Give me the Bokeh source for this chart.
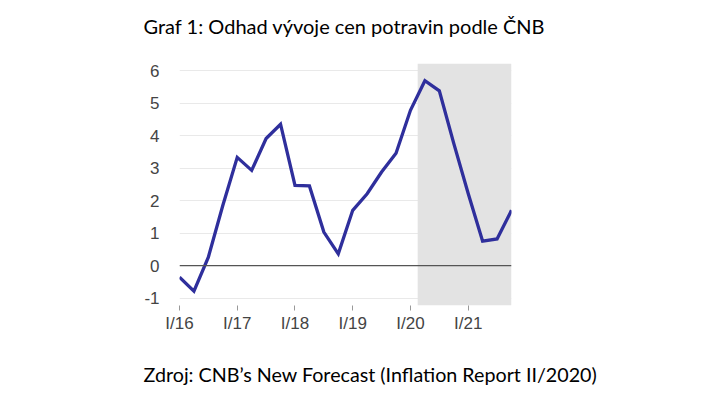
from bokeh.plotting import figure
from bokeh.models import Range1d, FixedTicker, Label, BoxAnnotation, Span
from bokeh.layouts import column
from bokeh.embed import file_html
from bokeh.resources import INLINE

quarters = list(range(24))
values = [-0.36, -0.79, 0.26, 1.85, 3.33, 2.93, 3.91, 4.35,
          2.47, 2.45, 1.03, 0.36, 1.70, 2.21, 2.88, 3.46,
          4.78, 5.69, 5.38, 3.76, 2.22, 0.75, 0.82, 1.70]
tick_pos = [0, 4, 8, 12, 16, 20]
tick_labels = ["I/16", "I/17", "I/18", "I/19", "I/20", "I/21"]
y_ticks = [-1, 0, 1, 2, 3, 4, 5, 6]
forecast_start = 16.5
title_text = "Graf 1: Odhad vývoje cen potravin podle ČNB"
source_text = "Zdroj: CNB’s New Forecast (Inflation Report II/2020)"

W = 700
TOP_H, SRC_H = 50, 43
FL, FR = 179, 511
FT, FB = 63 - TOP_H, 305 - TOP_H
MAIN_H = 298


def text_fig(height, text, size, y_frac):
    f = figure(width=W, height=height, output_backend="svg", toolbar_location=None,
               x_range=Range1d(0, W), y_range=Range1d(0, height),
               x_axis_type=None, y_axis_type=None, frame_align=False,
               min_border_left=0, min_border_right=0, min_border_top=0, min_border_bottom=0)
    f.outline_line_color = None
    f.grid.visible = False
    f.add_layout(Label(x=143, y=height * y_frac, text=text, text_font="Lato",
                       text_font_size=size, text_color="#000000",
                       text_baseline="middle", text_align="left"))
    return f


top = text_fig(TOP_H, title_text, "20px", 1 - 25 / TOP_H)
src = text_fig(SRC_H, source_text, "19.7px", 1 - (374 - TOP_H - MAIN_H) / SRC_H)

p = figure(width=W, height=MAIN_H, output_backend="svg", toolbar_location=None,
           x_range=Range1d(0, 23), y_range=Range1d(-1.23, 6.22), frame_align=False,
           min_border_left=FL, min_border_right=W - FR,
           min_border_top=FT, min_border_bottom=MAIN_H - FB)
p.outline_line_color = None
p.background_fill_color = "white"
p.border_fill_color = "white"

p.add_layout(BoxAnnotation(left=forecast_start, fill_color="#e3e3e3", fill_alpha=1.0,
                           line_color=None, level="underlay"))

p.xgrid.grid_line_color = None
p.ygrid.grid_line_color = "#e9e9e9"
p.ygrid.grid_line_width = 1
p.ygrid.ticker = FixedTicker(ticks=y_ticks)

p.add_layout(Span(location=0, dimension="width", line_color="#555555", line_width=1.2))

p.line(quarters, values, line_color="#2f2f9c", line_width=3.3, line_join="miter")

p.yaxis.ticker = FixedTicker(ticks=y_ticks)
p.yaxis.axis_line_color = None
p.yaxis.major_tick_line_color = None
p.yaxis.minor_tick_line_color = None
p.yaxis.major_label_standoff = 14
p.yaxis.major_label_text_font = "Liberation Sans"
p.yaxis.major_label_text_font_size = "17px"
p.yaxis.major_label_text_color = "#444444"
p.yaxis.major_label_overrides = {t: str(t) for t in y_ticks}

p.xaxis.ticker = FixedTicker(ticks=tick_pos)
p.xaxis.major_label_overrides = dict(zip(tick_pos, tick_labels))
p.xaxis.axis_line_color = None
p.xaxis.major_tick_line_color = "#999999"
p.xaxis.major_tick_in = 0
p.xaxis.major_tick_out = 5
p.xaxis.minor_tick_line_color = None
p.xaxis.major_label_standoff = 3
p.xaxis.major_label_text_font = "Liberation Sans"
p.xaxis.major_label_text_font_size = "17px"
p.xaxis.major_label_text_color = "#444444"

layout = column(top, p, src, spacing=0)
open("out.html", "w").write(file_html(layout, INLINE))
